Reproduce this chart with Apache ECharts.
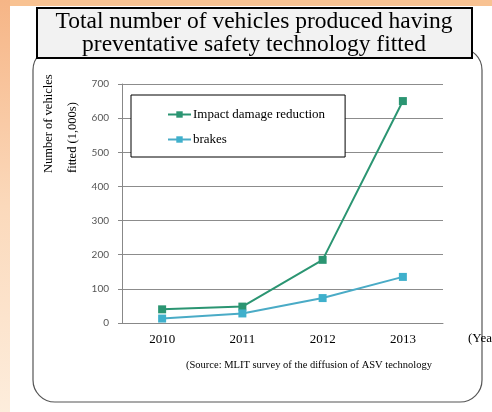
<!DOCTYPE html>
<html lang="en">
  <head>
    <meta charset="utf-8" />
    <title>Preventative safety technology</title>
    <script src="https://cdn.jsdelivr.net/npm/echarts@6/dist/echarts.min.js"></script>
    <style>
      html, body { margin: 0; padding: 0; background: #fff; }
      #chart { width: 492px; height: 412px; }
    </style>
  </head>
  <body>
    <div id="chart"></div>
    <script>
      var years = ['2010', '2011', '2012', '2013']
      var impactDamage = [40, 48, 185, 650]
      var brakes = [13, 28, 73, 135]
      var titleLines = ['Total number of vehicles produced having', 'preventative safety technology fitted']
      var yAxisName = ['Number of vehicles', 'fitted (1,000s)']
      var sourceNote = '(Source: MLIT survey of the diffusion of ASV technology'

      var serif = '"Liberation Serif", "DejaVu Serif", serif'
      var chart = echarts.init(document.getElementById('chart'))

      chart.setOption({
        animation: false,
        backgroundColor: '#fff',
        grid: { left: 122, right: 49, top: 84, bottom: 89 },
        legend: {
          left: 131,
          top: 95,
          orient: 'vertical',
          padding: [13, 20, 11, 36],
          itemGap: 12,
          itemWidth: 23,
          itemHeight: 8,
          backgroundColor: '#fff',
          borderColor: '#000',
          borderWidth: 1,
          textStyle: { fontFamily: serif, fontSize: 13, color: '#000', padding: [3, 0, 0, -3] },
          data: ['Impact damage reduction', 'brakes']
        },
        xAxis: {
          type: 'category',
          data: years,
          axisLine: { lineStyle: { color: '#888' } },
          axisTick: { inside: true, length: 5, lineStyle: { color: '#888' } },
          axisLabel: { fontFamily: serif, fontSize: 13, color: '#000', margin: 10 }
        },
        yAxis: {
          type: 'value',
          min: 0,
          max: 700,
          interval: 100,
          axisLine: { show: true, lineStyle: { color: '#888' } },
          axisTick: { show: true, length: 4, lineStyle: { color: '#888' } },
          axisLabel: { fontFamily: 'Lato, "DejaVu Sans", sans-serif', fontSize: 10, color: '#555', margin: 13 },
          splitLine: { lineStyle: { color: '#8c8c8c', width: 1 } }
        },
        series: [
          {
            name: 'Impact damage reduction',
            type: 'line',
            data: impactDamage,
            symbol: 'rect',
            symbolSize: 8,
            itemStyle: { color: '#2b9572' },
            lineStyle: { color: '#2b9572', width: 2 }
          },
          {
            name: 'brakes',
            type: 'line',
            data: brakes,
            symbol: 'rect',
            symbolSize: 8,
            itemStyle: { color: '#3fb0cc' },
            lineStyle: { color: '#4aabc6', width: 2 }
          }
        ],
        graphic: [
          // orange edges of the slide
          {
            type: 'rect', z: -10, silent: true,
            shape: { x: 0, y: 0, width: 492, height: 6 },
            style: { fill: '#f8c292' }
          },
          {
            type: 'rect', z: -10, silent: true,
            shape: { x: 0, y: 0, width: 10, height: 412 },
            style: {
              fill: new echarts.graphic.LinearGradient(0, 0, 0, 1, [
                { offset: 0, color: '#f6b586' },
                { offset: 0.5, color: '#fbd9bb' },
                { offset: 1, color: '#fdeddc' }
              ])
            }
          },
          // rounded panel
          {
            type: 'rect', z: -5, silent: true,
            shape: { x: 33, y: 48, width: 449, height: 354, r: 22 },
            style: { fill: '#fff', stroke: '#555', lineWidth: 1.2 }
          },
          // title box
          {
            type: 'rect', z: 10, silent: true,
            shape: { x: 37, y: 8, width: 435, height: 50 },
            style: { fill: '#f2f2f2', stroke: '#000', lineWidth: 2 }
          },
          {
            type: 'text', z: 11, silent: true, x: 254, y: 22,
            style: { text: titleLines[0], fill: '#000', font: '23.5px ' + serif, align: 'center', verticalAlign: 'middle' }
          },
          {
            type: 'text', z: 11, silent: true, x: 254, y: 45,
            style: { text: titleLines[1], fill: '#000', font: '23.5px ' + serif, align: 'center', verticalAlign: 'middle' }
          },
          // y axis name
          {
            type: 'text', silent: true, x: 49, y: 173, rotation: Math.PI / 2,
            style: { text: yAxisName[0], fill: '#000', font: '12.5px ' + serif, align: 'left', verticalAlign: 'middle' }
          },
          {
            type: 'text', silent: true, x: 73, y: 173, rotation: Math.PI / 2,
            style: { text: yAxisName[1], fill: '#000', font: '12.5px ' + serif, align: 'left', verticalAlign: 'middle' }
          },
          {
            type: 'text', silent: true, x: 468, y: 339,
            style: { text: '(Year', fill: '#000', font: '13px ' + serif, align: 'left', verticalAlign: 'middle' }
          },
          {
            type: 'text', silent: true, x: 186, y: 365,
            style: { text: sourceNote, fill: '#000', font: '10.5px ' + serif, align: 'left', verticalAlign: 'middle' }
          }
        ]
      })
    </script>
  </body>
</html>
